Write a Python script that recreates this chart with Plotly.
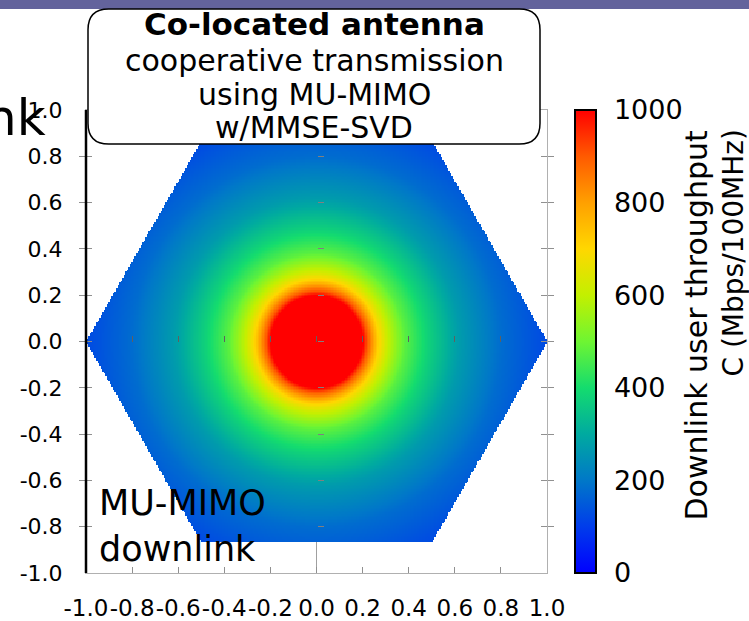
import numpy as np
import plotly.graph_objects as go

# ---- data ----
# radial throughput profile (distance from cell centre -> Mbps/100MHz)
radius = [0.0, 0.20, 0.22, 0.245, 0.27, 0.31, 0.38, 0.48, 0.62, 0.80, 0.97, 1.0]
throughput = [1000, 1000, 900, 800, 700, 600, 480, 380, 270, 180, 130, 125]
# hexagonal cell: vertices at (+-1, 0) and (+-0.5, +-0.866)
hex_half_height = 0.866
tick_values = [-1.0, -0.8, -0.6, -0.4, -0.2, 0.0, 0.2, 0.4, 0.6, 0.8, 1.0]
tick_labels = ["-1.0", "-0.8", "-0.6", "-0.4", "-0.2", "0.0", "0.2", "0.4", "0.6", "0.8", "1.0"]
cbar_ticks = [0, 200, 400, 600, 800, 1000]
cbar_max = 1000

# grid built from the profile
grid = np.linspace(-1, 1, 301)
X, Y = np.meshgrid(grid, grid)
R = np.sqrt(X ** 2 + Y ** 2)
Z = np.interp(R, radius, throughput)
inside = (np.abs(Y) <= hex_half_height) & (np.abs(Y) <= np.sqrt(3) * (1 - np.abs(X)) + 1e-9)
Z = np.where(inside, Z, np.nan)

jet = [
    [0.0, "rgb(0,0,255)"],
    [0.1, "rgb(0,60,235)"],
    [0.2, "rgb(0,120,200)"],
    [0.3, "rgb(0,170,160)"],
    [0.4, "rgb(20,220,110)"],
    [0.5, "rgb(110,245,50)"],
    [0.6, "rgb(195,240,0)"],
    [0.7, "rgb(255,215,0)"],
    [0.8, "rgb(255,160,0)"],
    [0.9, "rgb(255,90,0)"],
    [1.0, "rgb(255,0,0)"],
]

FONT = "DejaVu Sans"

def py(p):
    return (573 - p) / 463.0

def px(p):
    return (p - 86) / 461.0

fig = go.Figure()
fig.add_trace(go.Heatmap(
    x=grid, y=grid, z=Z, zmin=0, zmax=cbar_max, colorscale=jet,
    hoverongaps=False,
    colorbar=dict(
        x=px(575), xanchor="left", y=0.5, yanchor="middle", len=1.0, lenmode="fraction",
        thickness=21, outlinecolor="black", outlinewidth=2,
        tickvals=cbar_ticks, ticks="outside", ticklen=12, tickcolor="rgba(0,0,0,0)",
        tickfont=dict(family=FONT, size=27, color="black"),
        xpad=0, ypad=0,
    ),
))
# helper axes drawn along the zero lines
fig.add_trace(go.Scatter(x=[], y=[], xaxis="x2", yaxis="y", showlegend=False))
fig.add_trace(go.Scatter(x=[], y=[], xaxis="x", yaxis="y2", showlegend=False))

fig.update_layout(
    width=749, height=621,
    margin=dict(l=86, r=202, t=110, b=48, autoexpand=False),
    paper_bgcolor="white", plot_bgcolor="white",
    font=dict(family=FONT, color="black"),
    showlegend=False,
    xaxis=dict(
        range=[-1, 1], tickvals=tick_values, ticktext=tick_labels, automargin=False,
        showgrid=False, showline=True, linecolor="#b0b0b0", linewidth=1, mirror=True,
        ticks="inside", ticklen=6, tickcolor="#909090", tickangle=0,
        zeroline=True, zerolinecolor="#a0a0a0", zerolinewidth=1,
        tickfont=dict(family=FONT, size=23, color="black"), ticklabelstandoff=14,
    ),
    yaxis=dict(
        range=[-1, 1], tickvals=tick_values, ticktext=tick_labels, automargin=False,
        showgrid=False, showline=True, linecolor="#b0b0b0", linewidth=1, mirror="allticks",
        ticks="inside", ticklen=6, tickcolor="#909090",
        zeroline=True, zerolinecolor="black", zerolinewidth=2,
        tickfont=dict(family=FONT, size=22, color="black"), ticklabelstandoff=18,
    ),
    xaxis2=dict(
        overlaying="x", anchor="free", position=0.5, range=[-1, 1],
        tickvals=tick_values, showticklabels=False, showgrid=False, zeroline=False,
        showline=False, ticks="inside", ticklen=6, tickcolor="#606060",
    ),
    yaxis2=dict(
        overlaying="y", anchor="free", position=0.5, range=[-1, 1],
        tickvals=tick_values, showticklabels=False, showgrid=False, zeroline=False,
        showline=False, ticks="inside", ticklen=6, tickcolor="#808080",
    ),
)

# black left axis line
fig.add_shape(type="line", xref="paper", yref="paper", x0=0, x1=0, y0=0, y1=1,
              line=dict(color="black", width=2.5))

# short black dashes inside the colour bar at the inner tick values
for v in cbar_ticks[1:-1]:
    yy = v / cbar_max
    fig.add_shape(type="line", xref="paper", yref="paper", x0=px(576), x1=px(584), y0=yy, y1=yy,
                  line=dict(color="black", width=1.5), layer="above")
    fig.add_shape(type="line", xref="paper", yref="paper", x0=px(588), x1=px(596), y0=yy, y1=yy,
                  line=dict(color="black", width=1.5), layer="above")

# slide header band
fig.add_shape(type="rect", xref="paper", yref="paper", x0=-0.19, x1=1.44, y0=py(9), y1=py(-5),
              fillcolor="#63639c", line=dict(width=0), layer="above")

# rounded label box
x0, x1, y0, y1 = px(88), px(540), py(144), py(9)
rx, ry = 0.045, 0.045
path = (f"M {x0+rx},{y1} L {x1-rx},{y1} Q {x1},{y1} {x1},{y1-ry} "
        f"L {x1},{y0+ry} Q {x1},{y0} {x1-rx},{y0} L {x0+rx},{y0} "
        f"Q {x0},{y0} {x0},{y0+ry} L {x0},{y1-ry} Q {x0},{y1} {x0+rx},{y1} Z")
fig.add_shape(type="path", xref="paper", yref="paper", path=path,
              fillcolor="white", line=dict(color="black", width=1.5), layer="above")

box_lines = [
    ("<b>Co-located antenna</b>", 24, 31),
    ("cooperative transmission", 60, 30),
    ("using MU-MIMO", 94, 30),
    ("w/MMSE-SVD", 127, 30),
]
for txt, ypos, size in box_lines:
    fig.add_annotation(text=txt, xref="paper", yref="paper", x=px(314), y=py(ypos),
                       xanchor="center", yanchor="middle", showarrow=False,
                       font=dict(family=FONT, size=size, color="black"))

fig.add_annotation(text="MU-MIMO<br>downlink", xref="paper", yref="paper",
                   x=px(97), y=py(526), xanchor="left", yanchor="middle", align="left",
                   showarrow=False, font=dict(family=FONT, size=35, color="black"))

fig.add_annotation(text="nk", xref="paper", yref="paper", x=px(48), y=py(118),
                   xanchor="right", yanchor="middle", showarrow=False,
                   font=dict(family=FONT, size=50, color="black"))

# colour bar title (two rotated lines, end-aligned at the top)
fig.add_annotation(text="Downlink user throughput", xref="paper", yref="paper",
                   x=px(696), y=py(128), xanchor="center", yanchor="top", textangle=-90,
                   showarrow=False, font=dict(family=FONT, size=30, color="black"))
fig.add_annotation(text="C (Mbps/100MHz)", xref="paper", yref="paper",
                   x=px(733), y=py(128), xanchor="center", yanchor="top", textangle=-90,
                   showarrow=False, font=dict(family=FONT, size=28, color="black"))

# remove the default 8px page margin so the figure fills the window
fig.write_html("out.html", config={"displayModeBar": False},
               post_script="document.body.style.margin='0';")
